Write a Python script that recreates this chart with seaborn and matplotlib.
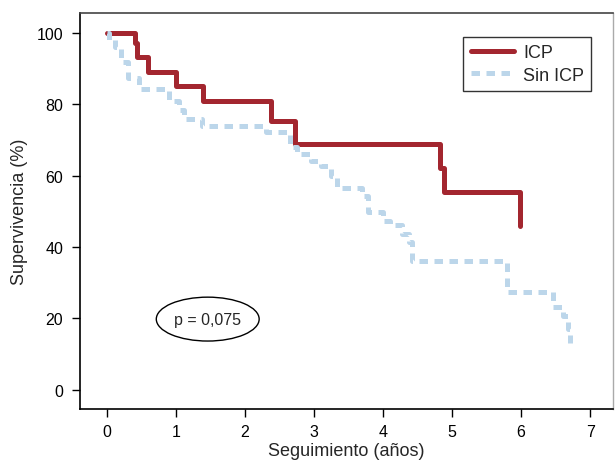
import numpy as np
import pandas as pd
import matplotlib
matplotlib.use("Agg")
import matplotlib.pyplot as plt
from matplotlib.patches import Ellipse
import seaborn as sns

# ICP group (Kaplan-Meier steps)
icp_time = [0.0, 0.41, 0.44, 0.59, 1.0, 1.39, 2.37, 2.72, 4.83, 4.88, 5.99, 5.99]
icp_surv = [100, 97.2, 93.2, 89.2, 85.2, 81.0, 75.2, 68.8, 62.1, 55.3, 55.3, 45.8]

# Sin ICP group
sin_time = [0.0, 0.03, 0.12, 0.21, 0.31, 0.47, 0.90, 1.05, 1.12, 1.38, 2.30, 2.65,
            2.75, 2.95, 3.10, 3.25, 3.33, 3.70, 3.78, 4.00, 4.10, 4.27, 4.38, 4.42,
            5.80, 6.46, 6.60, 6.68, 6.71]
sin_surv = [100, 98.0, 96.0, 92.0, 87.3, 84.3, 81.0, 78.5, 75.9, 74.0, 72.2, 68.0,
            66.0, 64.2, 62.6, 59.8, 56.6, 54.2, 49.7, 47.4, 46.2, 43.6, 41.3, 36.2,
            27.3, 23.1, 20.7, 17.0, 13.1]

groups = ["ICP", "Sin ICP"]
x_ticks = [0, 1, 2, 3, 4, 5, 6, 7]
y_ticks = [0, 20, 40, 60, 80, 100]

df = pd.concat([
    pd.DataFrame({"t": icp_time, "s": icp_surv, "g": groups[0]}),
    pd.DataFrame({"t": sin_time, "s": sin_surv, "g": groups[1]}),
], ignore_index=True)

sns.set_style("white")
plt.rcParams["font.family"] = ["Liberation Sans", "DejaVu Sans"]

fig = plt.figure(figsize=(6.16, 4.64), dpi=100)
ax = fig.add_axes([80/616, 1-410/464, (613-80)/616, (410-14)/464])

palette = {"ICP": "#a3262f", "Sin ICP": "#bcd6ea"}
sns.lineplot(data=df, x="t", y="s", hue="g", style="g", palette=palette,
             dashes={"ICP": "", "Sin ICP": (1.7, 1.3)},
             estimator=None, sort=False, drawstyle="steps-post",
             linewidth=3.6, ax=ax, legend=True)

ax.set_xlim(-0.39, 7.33)
ax.set_ylim(-5.4, 105.6)
ax.set_xticks(x_ticks)
ax.set_yticks(y_ticks)
ax.tick_params(axis="both", direction="out", length=6, width=1, colors="black",
               labelsize=11.5, bottom=True, left=True)
ax.tick_params(axis="x", pad=5)
ax.tick_params(axis="y", pad=6)
ax.set_xlabel("Seguimiento (años)", fontsize=13, labelpad=2)
ax.set_ylabel("Supervivencia (%)", fontsize=13, labelpad=6)

for side in ["left", "bottom"]:
    ax.spines[side].set_color("black")
    ax.spines[side].set_linewidth(1.2)
ax.spines["top"].set_color("#444444")
ax.spines["top"].set_linewidth(1.2)
ax.spines["right"].set_color("#aaaaaa")
ax.spines["right"].set_linewidth(1.0)

leg = ax.legend(title=None, loc="upper right", bbox_to_anchor=(0.959, 0.939),
                borderaxespad=0, fontsize=13, frameon=True, fancybox=False,
                handlelength=2.4, handletextpad=0.5, borderpad=0.4, labelspacing=0.3)
leg.get_frame().set_edgecolor("black")
leg.get_frame().set_linewidth(1.0)

ell = Ellipse((1.46, 19.8), 1.49, 12.3, facecolor="none", edgecolor="black", linewidth=1.0)
ax.add_patch(ell)
ax.text(1.46, 19.8, "p = 0,075", ha="center", va="center", fontsize=11.5)

fig.savefig("out.png", dpi=100)
